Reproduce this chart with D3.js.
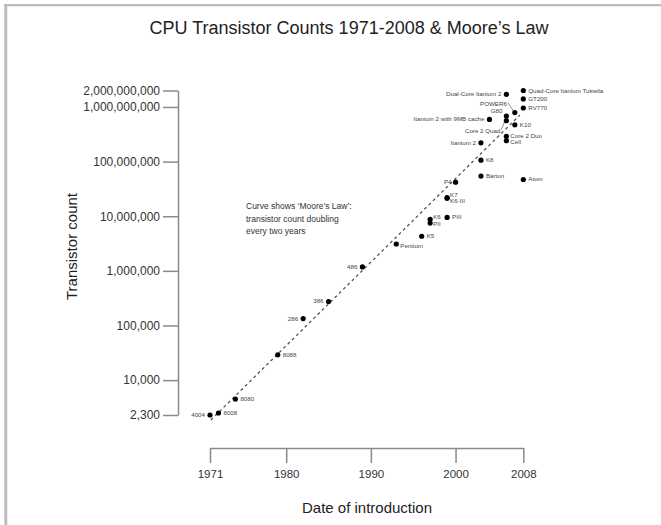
<!DOCTYPE html>
<html lang="en">

<head>
    <meta charset="UTF-8">
    <title>CPU Transistor Counts</title>
    <style>
        body {
            margin: 0;
            background: white;
        }

        svg text {
            font-family: "Liberation Sans", Arial, Helvetica, sans-serif;
        }

        .axis path,
        .axis line {
            stroke: #8a8a8a;
            stroke-width: 1.5;
        }

        .axis text {
            fill: #333;
        }

        .chipLabel {
            font-size: 6.2px;
            fill: #444;
        }
    </style>
</head>

<body>
    <div id="chart"></div>
    <script src="https://cdn.jsdelivr.net/npm/d3@7"></script>
    <script>
        // chips, year of introduction, transistor count
        const chips = ["4004", "8008", "8080", "8088", "286", "386", "486", "Pentium", "K5",
            "K6", "PII", "PIII", "K6-III", "K7", "P4", "Barton", "K8", "Itanium 2", "Cell",
            "Core 2 Duo", "Core 2 Quad", "G80", "Itanium 2 with 9MB cache", "K10", "POWER6",
            "Dual-Core Itanium 2", "Atom", "RV770", "GT200", "Quad-Core Itanium Tukwila"];
        const years = [1971, 1972, 1974, 1979, 1982, 1985, 1989, 1993, 1996,
            1997, 1997, 1999, 1999, 1999, 2000, 2003, 2003, 2003, 2006,
            2006, 2006, 2006, 2004, 2007, 2007,
            2006, 2008, 2008, 2008, 2008];
        const counts = [2300, 2500, 4500, 29000, 134000, 275000, 1180000, 3100000, 4300000,
            8800000, 7500000, 9500000, 21300000, 22000000, 42000000, 54300000, 105900000, 220000000, 241000000,
            291000000, 560000000, 681000000, 592000000, 470000000, 789000000,
            1700000000, 47000000, 956000000, 1400000000, 2000000000];

        // dashed Moore's law line, end points
        const mooreYears = [1971.1, 2007.6];
        const mooreCounts = [1860, 711000000];

        const yTicks = [2300, 10000, 100000, 1000000, 10000000, 100000000, 1000000000, 2000000000];
        const xTicks = [1971, 1980, 1990, 2000, 2008];

        const note = ["Curve shows \u2018Moore\u2019s Law\u2019:", "transistor count doubling", "every two years"];

        // label offsets: [dx, dy, anchor]
        const place = {
            "4004": [-5, 2, "end"], "286": [-5, 2, "end"], "386": [-5, 2, "end"], "486": [-5, 2, "end"],
            "Pentium": [4, 4, "start"], "K6": [3, 0, "start"], "PII": [3, 3, "start"],
            "K7": [3, -1, "start"], "K6-III": [3, 5, "start"],
            "P4": [-4, 2, "end"], "Itanium 2": [-5, 2, "end"],
            "Core 2 Duo": [4, 2, "start"], "Cell": [4, 3, "start"],
            "Core 2 Quad": [-6, 12, "end"], "G80": [-4, -3, "end"], "POWER6": [-8, -7, "end"],
            "Itanium 2 with 9MB cache": [-5, 2, "end"], "Dual-Core Itanium 2": [-5, 2, "end"]
        };
        const leaders = ["Core 2 Quad", "POWER6"];

        const width = 661;
        const height = 525;

        const svg = d3.select("#chart").append("svg")
            .attr("width", width)
            .attr("height", height);

        // picture frame (top and left edge)
        svg.append("path")
            .attr("d", `M4,5.2H${width}`)
            .attr("stroke", "#bdbdbd")
            .attr("stroke-width", 2.2);
        svg.append("path")
            .attr("d", `M5.8,4V${height}`)
            .attr("stroke", "#bdbdbd")
            .attr("stroke-width", 3);

        const x = d3.scaleLinear()
            .domain([1971, 2008])
            .range([210, 523.3]);

        const y = d3.scaleLog()
            .domain([2300, 2000000000])
            .range([415, 90.5]);

        svg.append("text")
            .attr("x", 349)
            .attr("y", 34)
            .attr("text-anchor", "middle")
            .attr("font-size", 18)
            .attr("fill", "#222")
            .text("CPU Transistor Counts 1971-2008 & Moore\u2019s Law");

        // axes
        svg.append("g")
            .attr("class", "axis")
            .attr("transform", "translate(178,0)")
            .call(d3.axisLeft(y)
                .tickValues(yTicks)
                .tickFormat(d3.format(","))
                .tickSize(15)
                .tickSizeOuter(0)
                .tickPadding(3))
            .call(g => g.selectAll("text").attr("font-size", 12));

        svg.append("g")
            .attr("class", "axis")
            .attr("transform", "translate(0,448)")
            .call(d3.axisBottom(x)
                .tickValues(xTicks)
                .tickFormat(d3.format("d"))
                .tickSize(15)
                .tickSizeOuter(0)
                .tickPadding(7))
            .call(g => g.selectAll("text").attr("font-size", 11.5));

        svg.append("text")
            .attr("transform", "translate(77,246.5) rotate(-90)")
            .attr("text-anchor", "middle")
            .attr("font-size", 15)
            .attr("fill", "#222")
            .text("Transistor count");

        svg.append("text")
            .attr("x", 367)
            .attr("y", 513)
            .attr("text-anchor", "middle")
            .attr("font-size", 15)
            .attr("fill", "#222")
            .text("Date of introduction");

        // Moore's law line
        const line = d3.line()
            .x(d => x(d[0]))
            .y(d => y(d[1]));

        svg.append("path")
            .datum(d3.zip(mooreYears, mooreCounts))
            .attr("d", line)
            .attr("fill", "none")
            .attr("stroke", "#555")
            .attr("stroke-width", 1.3)
            .attr("stroke-dasharray", "3,3");

        svg.append("text")
            .attr("font-size", 8.5)
            .attr("fill", "#333")
            .selectAll("tspan")
            .data(note)
            .join("tspan")
            .attr("x", 246)
            .attr("y", (d, i) => 209 + i * 12.5)
            .text(d => d);

        const data = chips.map((c, i) => ({ name: c, year: years[i], count: counts[i] }));

        // leader lines from label to dot
        svg.append("g")
            .selectAll("line")
            .data(data.filter(d => leaders.includes(d.name)))
            .join("line")
            .attr("x1", d => x(d.year) + place[d.name][0] + 1)
            .attr("y1", d => y(d.count) + place[d.name][1] - 3)
            .attr("x2", d => x(d.year) - 1)
            .attr("y2", d => y(d.count) - 1)
            .attr("stroke", "#444")
            .attr("stroke-width", 0.6);

        svg.append("g")
            .selectAll("circle")
            .data(data)
            .join("circle")
            .attr("cx", d => x(d.year))
            .attr("cy", d => y(d.count))
            .attr("r", 2.6)
            .attr("fill", "#000");

        svg.append("g")
            .selectAll("text")
            .data(data)
            .join("text")
            .attr("class", "chipLabel")
            .attr("x", d => x(d.year) + (place[d.name] ? place[d.name][0] : 5))
            .attr("y", d => y(d.count) + (place[d.name] ? place[d.name][1] : 2))
            .attr("text-anchor", d => place[d.name] ? place[d.name][2] : "start")
            .text(d => d.name);
    </script>
</body>

</html>
